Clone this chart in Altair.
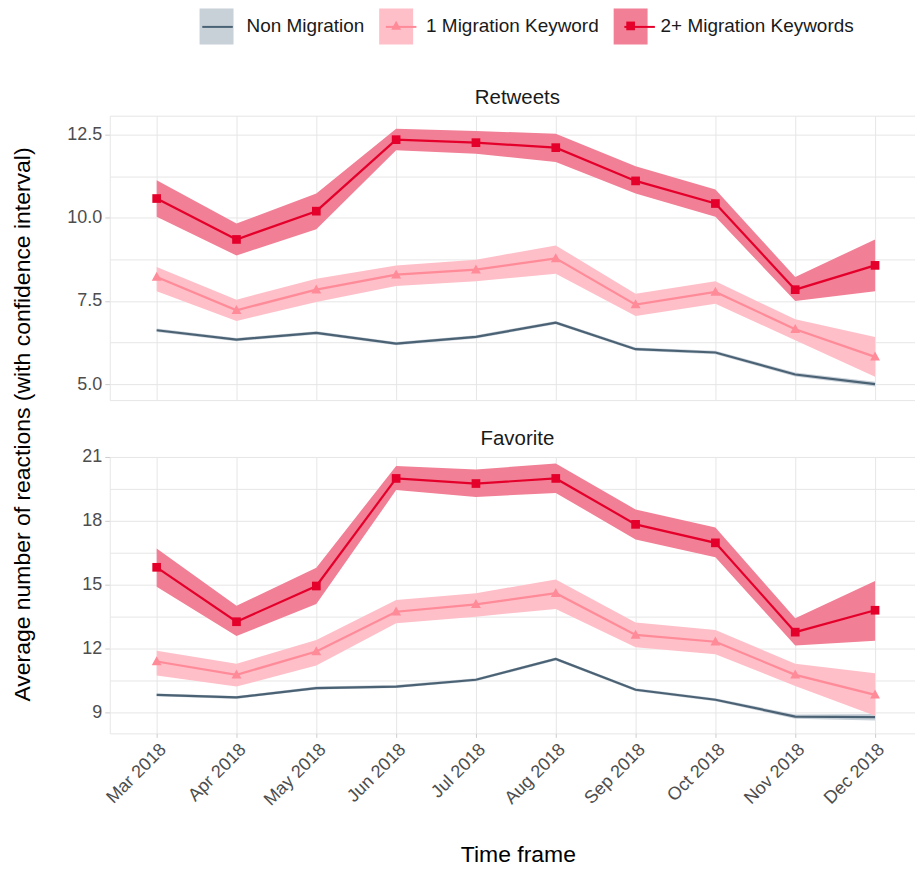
import json
import altair as alt
import pandas as pd

# ---------------- data ----------------
MONTHS = ["Mar 2018", "Apr 2018", "May 2018", "Jun 2018", "Jul 2018",
          "Aug 2018", "Sep 2018", "Oct 2018", "Nov 2018", "Dec 2018"]
SERIES = ["Non Migration", "1 Migration Keyword", "2+ Migration Keywords"]

# Retweets panel
rt_non = [6.62, 6.34, 6.54, 6.22, 6.42, 6.85, 6.05, 5.95, 5.29, 5.00]
rt_non_lo = [6.57, 6.29, 6.49, 6.17, 6.37, 6.80, 6.00, 5.90, 5.23, 4.93]
rt_non_hi = [6.67, 6.39, 6.59, 6.27, 6.47, 6.90, 6.10, 6.00, 5.35, 5.07]
rt_one = [8.22, 7.22, 7.84, 8.29, 8.44, 8.78, 7.39, 7.77, 6.65, 5.82]
rt_one_lo = [7.79, 6.90, 7.47, 7.95, 8.09, 8.32, 7.05, 7.42, 6.32, 5.22]
rt_one_hi = [8.52, 7.54, 8.17, 8.57, 8.74, 9.17, 7.72, 8.09, 6.95, 6.42]
rt_two = [10.58, 9.35, 10.20, 12.35, 12.26, 12.11, 11.11, 10.43, 7.84, 8.57]
rt_two_lo = [10.03, 8.87, 9.66, 12.03, 11.93, 11.68, 10.73, 10.03, 7.50, 7.79]
rt_two_hi = [11.13, 9.83, 10.73, 12.68, 12.61, 12.53, 11.55, 10.85, 8.22, 9.35]

# Favorite panel
fav_non = [9.81, 9.69, 10.13, 10.20, 10.52, 11.50, 10.05, 9.58, 8.79, 8.76]
fav_non_lo = [9.74, 9.62, 10.06, 10.13, 10.45, 11.43, 9.98, 9.51, 8.69, 8.61]
fav_non_hi = [9.88, 9.76, 10.20, 10.27, 10.59, 11.57, 10.12, 9.65, 8.89, 8.91]
fav_one = [11.38, 10.75, 11.85, 13.72, 14.07, 14.59, 12.63, 12.31, 10.75, 9.81]
fav_one_lo = [10.72, 10.20, 11.19, 13.18, 13.49, 13.85, 12.05, 11.72, 10.23, 8.83]
fav_one_hi = [11.88, 11.27, 12.39, 14.27, 14.59, 15.24, 13.21, 12.86, 11.27, 10.83]
fav_two = [15.81, 13.25, 14.93, 19.99, 19.75, 19.99, 17.83, 16.96, 12.76, 13.79]
fav_two_lo = [14.90, 12.58, 14.08, 19.44, 19.12, 19.31, 17.12, 16.28, 12.13, 12.36]
fav_two_hi = [16.70, 14.00, 15.79, 20.58, 20.41, 20.69, 18.53, 17.68, 13.41, 15.16]

# axis ticks
RT_MAJOR = [5.0, 7.5, 10.0, 12.5]
RT_GRID = [4.52, 5.0, 6.25, 7.5, 8.75, 10.0, 11.25, 12.5, 13.07]
RT_DOMAIN = [4.52, 13.07]
FAV_MAJOR = [9, 12, 15, 18, 21]
FAV_GRID = [8.0, 9, 10.5, 12, 13.5, 15, 16.5, 18, 19.5, 21]
FAV_DOMAIN = [8.0, 21.0]

# ---------------- styles ----------------
LINE_COLORS = ["#4a6274", "#ff8a98", "#e4002b"]
RIBBON_COLORS = ["#c8d0d8", "#ffbfc8", "#f17f95"]
MARKER_PATHS = ["M0,0",
                "M0,-0.31L0.29,0.22L-0.29,0.22Z",
                "M-0.256,-0.256L0.256,-0.256L0.256,0.256L-0.256,0.256Z"]
FONT = "Liberation Sans"
GRID = "#e6e6e6"

rows = []
panels = {
    "Retweets": [(rt_non, rt_non_lo, rt_non_hi), (rt_one, rt_one_lo, rt_one_hi), (rt_two, rt_two_lo, rt_two_hi)],
    "Favorite": [(fav_non, fav_non_lo, fav_non_hi), (fav_one, fav_one_lo, fav_one_hi), (fav_two, fav_two_lo, fav_two_hi)],
}
for metric, sers in panels.items():
    for k, (m, lo, hi) in enumerate(sers):
        for i, mon in enumerate(MONTHS):
            rows.append(dict(metric=metric, month=mon, order=k, mean=m[i], lo=lo[i], hi=hi[i],
                             s_fill=SERIES[k], s_line=SERIES[k], s_pt=SERIES[k]))
df = pd.DataFrame(rows)

order_sort = alt.EncodingSortField(field="order", op="min")
legend_common = dict(orient="none", legendX=90, legendY=-107, direction="horizontal", title=None,
                     symbolSize=1156, labelFontSize=19, labelFont=FONT, labelOffset=13,
                     columnPadding=14, padding=0, labelLimit=0)
legA = alt.Legend(symbolType="M-1,-1.06L1,-1.06L1,1.06L-1,1.06Z", symbolStrokeWidth=0,
                  labelColor="#1a1a1a", **legend_common)
legB = alt.Legend(symbolType="M-0.9,0L0.9,0", symbolStrokeWidth=2, labelOpacity=0, **legend_common)
legC = alt.Legend(symbolStrokeWidth=0, labelOpacity=0, **legend_common)

xscale = alt.Scale(type="point", padding=0.544, align=0.54)


def in_list_expr(vals):
    return "indexof(" + json.dumps(vals) + ", datum.value) >= 0"


def panel(metric, domain, grid_vals, major, fmt, height, bottom, title_offset):
    base = alt.Chart(df).transform_filter(alt.datum.metric == metric)
    if bottom:
        xaxis = alt.Axis(labels=True, labelAngle=-45, labelAlign="right", labelBaseline="top",
                         labelFontSize=18, labelFont=FONT, labelColor="#4d4d4d", labelPadding=3,
                         ticks=True, tickSize=4, tickColor="#cccccc", domain=False,
                         grid=True, gridColor=GRID, title="Time frame", titleFontSize=23,
                         titleFont=FONT, titleFontWeight="normal", titleColor="#000000",
                         titleX=409, titleY=121, titleBaseline="middle", titleAlign="center")
        ytitle = None
    else:
        xaxis = alt.Axis(labels=False, ticks=False, domain=False, grid=True, gridColor=GRID, title=None)
        ytitle = "Average number of reactions (with confidence interval)"
    yaxis_kw = dict(values=grid_vals, grid=True, gridColor=GRID, domain=True, domainColor=GRID,
                    labelExpr="(" + in_list_expr(major) + ") ? format(datum.value, '" + fmt + "') : ''",
                    labelFontSize=18, labelFont=FONT, labelColor="#4d4d4d", labelPadding=3,
                    tickSize=5, tickColor="#cccccc",
                    tickOpacity={"condition": {"test": in_list_expr(major), "value": 1}, "value": 0})
    if ytitle:
        yaxis = alt.Axis(title=ytitle, titleX=-87, titleY=309, titleAngle=270, titleAlign="center",
                         titleBaseline="middle", titleFontSize=23, titleFont=FONT,
                         titleFontWeight="normal", titleColor="#000000", **yaxis_kw)
    else:
        yaxis = alt.Axis(title=None, **yaxis_kw)
    yscale = alt.Scale(domain=domain, nice=False, zero=False)
    xenc = alt.X("month:O", sort=MONTHS, scale=xscale, axis=xaxis)

    area = base.mark_area(opacity=1).encode(
        x=xenc,
        y=alt.Y("lo:Q", scale=yscale, axis=yaxis),
        y2="hi:Q",
        color=alt.Color("s_fill:N", sort=order_sort, scale=alt.Scale(range=RIBBON_COLORS), legend=legA),
    )
    line = base.mark_line(strokeWidth=2.2).encode(
        x=xenc,
        y=alt.Y("mean:Q", scale=yscale, axis=yaxis),
        stroke=alt.Stroke("s_line:N", sort=order_sort, scale=alt.Scale(range=LINE_COLORS), legend=legB),
    )
    pts = base.mark_point(filled=True, size=1156, opacity=1, strokeWidth=0).encode(
        x=xenc,
        y=alt.Y("mean:Q", scale=yscale, axis=yaxis),
        fill=alt.Fill("s_pt:N", sort=order_sort, scale=alt.Scale(range=LINE_COLORS), legend=legC),
        shape=alt.Shape("s_pt:N", sort=order_sort, scale=alt.Scale(range=MARKER_PATHS), legend=legC),
    )
    return alt.layer(area, line, pts).properties(
        width=807, height=height,
        title=alt.TitleParams(metric, fontSize=20.5, font=FONT, fontWeight="normal",
                              color="#1a1a1a", offset=title_offset, dx=5),
    )


top = panel("Retweets", RT_DOMAIN, RT_GRID, RT_MAJOR, ".1f", 285, False, 7)
bot = panel("Favorite", FAV_DOMAIN, FAV_GRID, FAV_MAJOR, "d", 277, True, -2)

chart = alt.vconcat(top, bot, spacing=57, bounds="flush").properties(
    padding={"left": 3, "top": 0, "right": 0, "bottom": 0}
).configure(font=FONT).configure_view(strokeWidth=0)

chart.save("out.html", embed_options={"renderer": "svg", "actions": False})
